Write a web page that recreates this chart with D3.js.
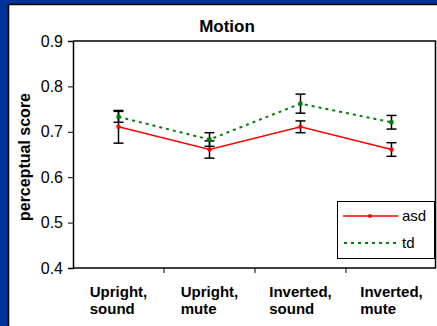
<!DOCTYPE html>
<html>
<head>
<meta charset="utf-8">
<script src="https://cdn.jsdelivr.net/npm/d3@7"></script>
<style>
  body { margin: 0; background: #003399; overflow: hidden; }
  svg { display: block; font-family: Arial, "Liberation Sans", sans-serif; }
</style>
</head>
<body>
<svg id="chart" width="437" height="326"></svg>
<script>
// chart values
const categories = [["Upright,", "sound"], ["Upright,", "mute"], ["Inverted,", "sound"], ["Inverted,", "mute"]];
const asdMean = [0.711, 0.661, 0.711, 0.661];
const asdErr  = [0.036, 0.019, 0.013, 0.015];
const tdMean  = [0.733, 0.683, 0.762, 0.721];
const tdErr   = [0.012, 0.015, 0.021, 0.015];
const yTicks  = [0.4, 0.5, 0.6, 0.7, 0.8, 0.9];

const svg = d3.select("#chart");
const margin = {top: 41, left: 73, bottom: 268, right: 437};

// white panel on the blue slide
svg.append("rect").attr("x", 8.5).attr("y", 4.5).attr("width", 440).attr("height", 330)
   .attr("fill", "#fff").attr("stroke", "#000").attr("stroke-width", 1.5);

const x = d3.scaleBand().domain(d3.range(categories.length)).range([margin.left, margin.right]);
const y = d3.scaleLinear().domain([0.4, 0.9]).range([margin.bottom, margin.top]);

// plot area border (top and right)
svg.append("path")
   .attr("d", `M${margin.left},${y(0.9)}H435.5V${y(0.4)}`)
   .attr("fill", "none").attr("stroke", "#000").attr("stroke-width", 1.5);

// y axis
const yAxis = svg.append("g").attr("transform", `translate(${margin.left},0)`)
   .call(d3.axisLeft(y).tickValues(yTicks).tickFormat(d3.format(".1f")).tickSize(5).tickPadding(5));
yAxis.select(".domain").attr("stroke-width", 1.5);
yAxis.selectAll("text").attr("font-size", 16).attr("fill", "#000")
   .attr("font-family", "Arial, 'Liberation Sans', sans-serif");

// x axis ticks between categories
const xAxis = svg.append("g").attr("transform", `translate(0,${margin.bottom})`);
xAxis.append("line").attr("x1", margin.left).attr("x2", 436)
   .attr("stroke", "#000").attr("stroke-width", 1.5);
xAxis.selectAll("line.tick").data(d3.range(1, categories.length)).join("line")
   .attr("class", "tick")
   .attr("x1", d => margin.left + d * x.step()).attr("x2", d => margin.left + d * x.step())
   .attr("y1", 0).attr("y2", 5).attr("stroke", "#000").attr("stroke-width", 1);

// category labels: two left-aligned lines, block centred on the band
categories.forEach((lines, i) => {
  const cx = x(i) + x.bandwidth() / 2;
  const g = svg.append("g");
  const t = g.selectAll("text").data(lines).join("text")
     .attr("y", (d, k) => 297 + k * 17)
     .attr("font-size", 15).attr("font-weight", "bold").text(d => d);
  const w = d3.max(t.nodes(), n => n.getComputedTextLength());
  t.attr("x", cx - w / 2);
});

// title and y label
svg.append("text").attr("x", 227).attr("y", 32).attr("text-anchor", "middle")
   .attr("font-size", 17).attr("font-weight", "bold").text("Motion");
svg.append("text").attr("transform", "translate(30,157) rotate(-90)").attr("text-anchor", "middle")
   .attr("font-size", 16).attr("font-weight", "bold").text("perceptual score");

const cx = i => x(i) + x.bandwidth() / 2;
const line = d3.line().x((d, i) => cx(i)).y(d => y(d));

function errorBars(mean, err) {
  const g = svg.append("g").attr("stroke", "#000").attr("stroke-width", 1.5);
  mean.forEach((m, i) => {
    g.append("line").attr("x1", cx(i)).attr("x2", cx(i)).attr("y1", y(m - err[i])).attr("y2", y(m + err[i]));
    [m - err[i], m + err[i]].forEach(v => {
      g.append("line").attr("x1", cx(i) - 5).attr("x2", cx(i) + 5).attr("y1", y(v)).attr("y2", y(v));
    });
  });
}

errorBars(asdMean, asdErr);
errorBars(tdMean, tdErr);

// td series
svg.append("path").datum(tdMean).attr("d", line).attr("fill", "none")
   .attr("stroke", "#008000").attr("stroke-width", 2).attr("stroke-dasharray", "3,4");
svg.selectAll("rect.td").data(tdMean).join("rect").attr("class", "td")
   .attr("x", (d, i) => cx(i) - 2).attr("y", d => y(d) - 2).attr("width", 4).attr("height", 4)
   .attr("fill", "#008000");

// asd series
svg.append("path").datum(asdMean).attr("d", line).attr("fill", "none")
   .attr("stroke", "#ff0000").attr("stroke-width", 1.5);
svg.selectAll("circle.asd").data(asdMean).join("circle").attr("class", "asd")
   .attr("cx", (d, i) => cx(i)).attr("cy", d => y(d)).attr("r", 2.2).attr("fill", "#ff0000");

// legend
const lg = svg.append("g");
lg.append("rect").attr("x", 337.5).attr("y", 201.5).attr("width", 97).attr("height", 57)
   .attr("fill", "#fff").attr("stroke", "#000").attr("stroke-width", 1);
lg.append("line").attr("x1", 343).attr("x2", 398).attr("y1", 216).attr("y2", 216)
   .attr("stroke", "#ff0000").attr("stroke-width", 1.5);
lg.append("circle").attr("cx", 370).attr("cy", 216).attr("r", 2).attr("fill", "#ff0000");
lg.append("line").attr("x1", 344).attr("x2", 398).attr("y1", 243).attr("y2", 243)
   .attr("stroke", "#008000").attr("stroke-width", 2).attr("stroke-dasharray", "3,4");
lg.append("text").attr("x", 402).attr("y", 221).attr("font-size", 15).text("asd");
lg.append("text").attr("x", 402).attr("y", 248).attr("font-size", 15).text("td");
</script>
</body>
</html>
